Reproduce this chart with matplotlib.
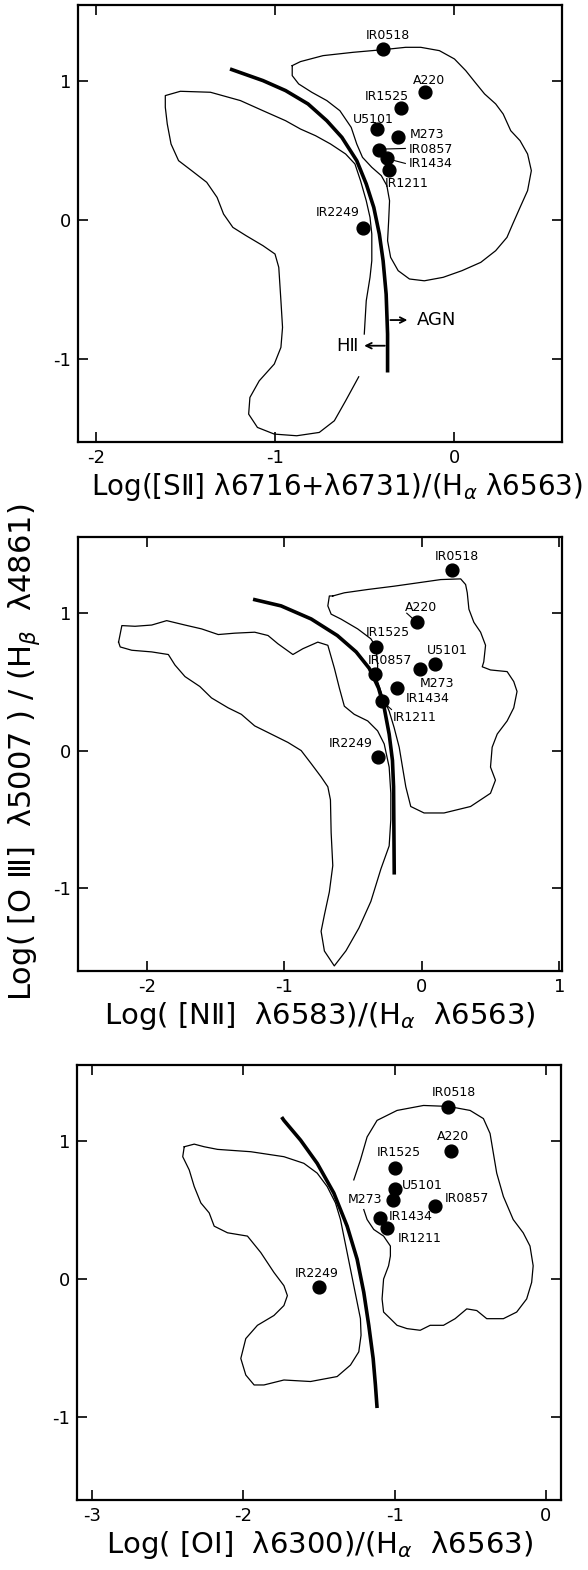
import numpy as np
import matplotlib
matplotlib.use('Agg')
import matplotlib.pyplot as plt

plt.rcParams['font.family'] = ['DejaVu Sans']
plt.rcParams['axes.unicode_minus'] = False

names = ['IR0518', 'A220', 'IR1525', 'U5101', 'M273', 'IR0857', 'IR1434', 'IR1211', 'IR2249']

# ---------------- Panel 1: [SII]/Halpha ----------------
s2_x = [-0.40, -0.166, -0.30, -0.43, -0.313, -0.42, -0.375, -0.363, -0.509]
s2_y = [1.235, 0.92, 0.806, 0.653, 0.596, 0.503, 0.45, 0.362, -0.06]
s2_lab_x = [-0.373, -0.143, -0.376, -0.454, -0.153, -0.130, -0.130, -0.264, -0.649]
s2_lab_y = [1.329, 1.009, 0.889, 0.723, 0.620, 0.512, 0.404, 0.260, 0.055]
s2_lead = [[(-0.385, 0.512), (-0.274, 0.516)], [(-0.348, 0.433), (-0.274, 0.408)]]
s2_curve_x = [-1.252, -1.068, -0.942, -0.817, -0.712, -0.628, -0.545, -0.492, -0.450, -0.419, -0.398, -0.381, -0.373, -0.373]
s2_curve_y = [1.089, 1.005, 0.933, 0.837, 0.716, 0.596, 0.428, 0.260, 0.091, -0.101, -0.293, -0.534, -0.822, -1.099]
s2_hii_x = [-0.534, -0.607, -0.670, -0.754, -0.880, -1.005, -1.099, -1.148, -1.141, -1.089, -1.005, -0.968, -0.959, -0.968,
            -0.980, -1.001, -1.068, -1.162, -1.236, -1.288, -1.324, -1.382, -1.466, -1.539, -1.581, -1.602, -1.613, -1.613,
            -1.529, -1.361, -1.194, -1.068, -0.942, -0.859, -0.775, -0.691, -0.607, -0.555, -0.524, -0.492, -0.471, -0.461,
            -0.461, -0.471, -0.492, -0.503]
s2_hii_y = [-1.130, -1.303, -1.447, -1.531, -1.555, -1.543, -1.495, -1.399, -1.279, -1.159, -1.038, -0.918, -0.774, -0.582,
            -0.341, -0.245, -0.185, -0.113, -0.053, 0.043, 0.163, 0.272, 0.356, 0.428, 0.548, 0.692, 0.813, 0.897,
            0.928, 0.921, 0.861, 0.788, 0.716, 0.656, 0.608, 0.548, 0.476, 0.404, 0.284, 0.139, 0.019, -0.101,
            -0.293, -0.413, -0.582, -0.822]
s2_agn_x = [-0.905, -0.859, -0.733, -0.565, -0.398, -0.272, -0.188, -0.084, 0.0, 0.063, 0.115, 0.168, 0.230, 0.272,
            0.314, 0.366, 0.408, 0.429, 0.408, 0.366, 0.325, 0.293, 0.230, 0.147, 0.042, -0.063, -0.168, -0.251,
            -0.314, -0.356, -0.373, -0.367, -0.362, -0.377, -0.408, -0.461, -0.513, -0.545, -0.576, -0.639, -0.712,
            -0.796, -0.869, -0.905, -0.905]
s2_agn_y = [1.113, 1.142, 1.185, 1.209, 1.228, 1.245, 1.245, 1.221, 1.161, 1.077, 0.993, 0.909, 0.837, 0.764,
            0.644, 0.572, 0.476, 0.356, 0.212, 0.091, -0.029, -0.125, -0.221, -0.305, -0.365, -0.413, -0.438, -0.425,
            -0.365, -0.269, -0.149, -0.005, 0.139, 0.248, 0.320, 0.380, 0.452, 0.548, 0.668, 0.788, 0.861,
            0.921, 0.981, 1.041, 1.113]

# ---------------- Panel 2: [NII]/Halpha ----------------
n2_x = [0.222, -0.036, -0.333, 0.094, -0.012, -0.341, -0.181, -0.292, -0.317]
n2_y = [1.31, 0.935, 0.752, 0.625, 0.589, 0.556, 0.456, 0.358, -0.048]
n2_lab_x = [0.259, -0.007, -0.249, 0.186, 0.114, -0.230, 0.046, -0.051, -0.515]
n2_lab_y = [1.408, 1.038, 0.854, 0.728, 0.489, 0.656, 0.377, 0.243, 0.052]
n2_lead = [[(-0.109, 0.997), (-0.067, 0.959)], [(-0.261, 0.334), (-0.220, 0.298)]]
n2_curve_x = [-1.227, -1.023, -0.804, -0.614, -0.477, -0.382, -0.314, -0.273, -0.237, -0.213, -0.205, -0.200]
n2_curve_y = [1.098, 1.050, 0.955, 0.835, 0.716, 0.597, 0.453, 0.310, 0.119, -0.072, -0.263, -0.900]
n2_hii_x = [-2.205, -2.181, -2.085, -1.964, -1.855, -1.722, -1.601, -1.480, -1.360, -1.215, -1.118, -1.046, -0.937,
            -0.865, -0.756, -0.683, -0.635, -0.599, -0.563, -0.491, -0.393, -0.321, -0.273, -0.237, -0.225, -0.225,
            -0.237, -0.297, -0.370, -0.457, -0.551, -0.636, -0.708, -0.732, -0.708, -0.672, -0.647, -0.659, -0.664,
            -0.683, -0.732, -0.804, -0.877, -0.973, -1.118, -1.215, -1.312, -1.408, -1.529, -1.614, -1.722, -1.795,
            -1.843, -1.964, -2.109, -2.193, -2.205]
n2_hii_y = [0.787, 0.907, 0.902, 0.911, 0.943, 0.911, 0.883, 0.842, 0.852, 0.859, 0.835, 0.775, 0.697,
            0.739, 0.787, 0.764, 0.596, 0.453, 0.322, 0.263, 0.215, 0.143, 0.048, -0.120, -0.310, -0.501,
            -0.692, -0.859, -1.095, -1.288, -1.453, -1.563, -1.455, -1.312, -1.193, -1.026, -0.835, -0.596, -0.358,
            -0.263, -0.191, -0.095, 0.0, 0.059, 0.131, 0.179, 0.263, 0.310, 0.382, 0.465, 0.537, 0.621,
            0.697, 0.716, 0.728, 0.752, 0.787]
n2_agn_x = [-0.647, -0.563, -0.393, -0.201, -0.031, 0.138, 0.283, 0.319, 0.331, 0.343, 0.379, 0.428, 0.464,
            0.451, 0.440, 0.500, 0.621, 0.669, 0.693, 0.669, 0.621, 0.549, 0.512, 0.500, 0.536, 0.500, 0.355,
            0.162, 0.017, -0.080, -0.116, -0.140, -0.164, -0.201, -0.237, -0.285, -0.321, -0.321, -0.333, -0.370,
            -0.466, -0.587, -0.659, -0.683, -0.672, -0.647]
n2_agn_y = [1.122, 1.145, 1.169, 1.193, 1.217, 1.241, 1.246, 1.205, 1.145, 1.026, 0.931, 0.859, 0.764,
            0.644, 0.608, 0.585, 0.573, 0.501, 0.429, 0.310, 0.215, 0.120, 0.024, -0.120, -0.215, -0.310, -0.406,
            -0.453, -0.453, -0.406, -0.263, -0.120, 0.024, 0.167, 0.286, 0.394, 0.501, 0.621, 0.752, 0.811,
            0.883, 0.954, 0.990, 1.050, 1.122, 1.122]

# ---------------- Panel 3: [OI]/Halpha ----------------
o1_x = [-0.648, -0.628, -0.995, -0.995, -1.011, -0.732, -1.099, -1.050, -1.501]
o1_y = [1.245, 0.929, 0.802, 0.651, 0.570, 0.532, 0.443, 0.371, -0.060]
o1_lab_x = [-0.606, -0.611, -0.974, -0.819, -1.193, -0.523, -0.897, -0.835, -1.516]
o1_lab_y = [1.353, 1.034, 0.915, 0.675, 0.575, 0.580, 0.455, 0.292, 0.043]
o1_lead = []
o1_curve_x = [-1.747, -1.732, -1.622, -1.512, -1.402, -1.314, -1.248, -1.204, -1.171, -1.142, -1.127, -1.116]
o1_curve_y = [1.173, 1.149, 1.006, 0.838, 0.623, 0.383, 0.144, -0.096, -0.335, -0.575, -0.767, -0.934]
o1_hii_x = [-2.391, -2.325, -2.259, -2.171, -1.951, -1.732, -1.600, -1.512, -1.446, -1.391, -1.358, -1.336, -1.314,
            -1.292, -1.270, -1.248, -1.226, -1.222, -1.237, -1.292, -1.380, -1.556, -1.732, -1.864, -1.929, -1.984,
            -2.017, -1.984, -1.907, -1.798, -1.732, -1.709, -1.732, -1.798, -1.885, -1.973, -2.105, -2.193, -2.226,
            -2.281, -2.325, -2.358, -2.401, -2.391]
o1_hii_y = [0.958, 0.977, 0.958, 0.939, 0.922, 0.886, 0.838, 0.767, 0.670, 0.551, 0.431, 0.311, 0.192,
            0.072, -0.048, -0.167, -0.287, -0.407, -0.527, -0.623, -0.706, -0.742, -0.731, -0.767, -0.767, -0.695,
            -0.575, -0.431, -0.335, -0.264, -0.192, -0.120, -0.048, 0.048, 0.192, 0.311, 0.335, 0.383, 0.479,
            0.551, 0.670, 0.790, 0.886, 0.958]
o1_agn_x = [-1.270, -1.226, -1.182, -1.116, -0.984, -0.809, -0.644, -0.501, -0.413, -0.369, -0.347, -0.325, -0.281,
            -0.216, -0.150, -0.105, -0.084, -0.094, -0.127, -0.193, -0.281, -0.391, -0.457, -0.523, -0.600, -0.677,
            -0.765, -0.831, -0.918, -0.984, -1.028, -1.073, -1.083, -1.073, -1.040, -1.028, -1.028, -1.073, -1.138,
            -1.182, -1.204]
o1_agn_y = [0.718, 0.862, 1.029, 1.149, 1.221, 1.257, 1.250, 1.221, 1.162, 1.054, 0.910, 0.767, 0.598,
            0.431, 0.335, 0.239, 0.096, -0.024, -0.144, -0.239, -0.287, -0.287, -0.228, -0.216, -0.287, -0.335,
            -0.335, -0.371, -0.359, -0.335, -0.287, -0.239, -0.144, 0.0, 0.096, 0.167, 0.239, 0.311, 0.359,
            0.431, 0.503]

xticks1 = [-2, -1, 0]
xticks2 = [-2, -1, 0, 1]
xticks3 = [-3, -2, -1, 0]
yticks = [-1, 0, 1]

xlabel1 = 'Log([SⅡ] λ6716+λ6731)/(H$_\\alpha$ λ6563)'
xlabel2 = 'Log( [NⅡ]  λ6583)/(H$_\\alpha$  λ6563)'
xlabel3 = 'Log( [OI]  λ6300)/(H$_\\alpha$  λ6563)'
ylabel = 'Log( [O Ⅲ]  λ5007 ) / (H$_\\beta$  λ4861)'

W, H = 588, 1570
fig = plt.figure(figsize=(W / 100, H / 100), dpi=100)


def make_ax(l, t, r, b):
    return fig.add_axes([l / W, 1 - b / H, (r - l) / W, (b - t) / H])


def panel(ax, px, py, lx, ly, leads, cx, cy, hx, hy, ax_, ay_, xlim, xticks, xlabel, lsize, lcx):
    ax.plot(hx, hy, color='black', lw=0.9)
    ax.plot(ax_, ay_, color='black', lw=0.9)
    ax.plot(cx, cy, color='black', lw=2.6, solid_capstyle='butt')
    ax.scatter(px, py, s=85, color='black', zorder=5)
    for n, x, y in zip(names, lx, ly):
        ax.text(x, y, n, fontsize=9, ha='center', va='center')
    for seg in leads:
        ax.plot([seg[0][0], seg[1][0]], [seg[0][1], seg[1][1]], color='black', lw=0.8)
    ax.set_xlim(*xlim)
    ax.set_ylim(-1.6, 1.55)
    ax.set_xticks(xticks)
    ax.set_yticks(yticks)
    ax.tick_params(direction='in', top=True, right=True, length=7, width=1.2,
                   labelsize=13, pad=5)
    for sp in ax.spines.values():
        sp.set_linewidth(1.6)
    ax.set_xlabel(xlabel, fontsize=lsize)
    ax.xaxis.set_label_coords(lcx, -0.066, transform=ax.transAxes)
    ax.xaxis.label.set_va('top')


ax1 = make_ax(78, 5, 562, 442)
panel(ax1, s2_x, s2_y, s2_lab_x, s2_lab_y, s2_lead, s2_curve_x, s2_curve_y,
      s2_hii_x, s2_hii_y, s2_agn_x, s2_agn_y, (-2.1, 0.6), xticks1, xlabel1, 20, 0.535)
ax1.annotate('', xy=(-0.247, -0.721), xytext=(-0.373, -0.721),
             arrowprops=dict(arrowstyle='->', lw=1.3, color='black'))
ax1.text(-0.209, -0.721, 'AGN', fontsize=13, ha='left', va='center')
ax1.annotate('', xy=(-0.519, -0.906), xytext=(-0.373, -0.906),
             arrowprops=dict(arrowstyle='->', lw=1.3, color='black'))
ax1.text(-0.534, -0.906, 'HⅡ', fontsize=13, ha='right', va='center')

ax2 = make_ax(78, 537, 562, 971)
panel(ax2, n2_x, n2_y, n2_lab_x, n2_lab_y, n2_lead, n2_curve_x, n2_curve_y,
      n2_hii_x, n2_hii_y, n2_agn_x, n2_agn_y, (-2.5, 1.02), xticks2, xlabel2, 21, 0.5)

ax3 = make_ax(77, 1065, 561, 1500)
panel(ax3, o1_x, o1_y, o1_lab_x, o1_lab_y, o1_lead, o1_curve_x, o1_curve_y,
      o1_hii_x, o1_hii_y, o1_agn_x, o1_agn_y, (-3.1, 0.1), xticks3, xlabel3, 21, 0.5)

fig.text(24 / W, 1 - 752 / H, ylabel, rotation=90, ha='center', va='center', fontsize=22)

fig.savefig('out.png', dpi=100)
